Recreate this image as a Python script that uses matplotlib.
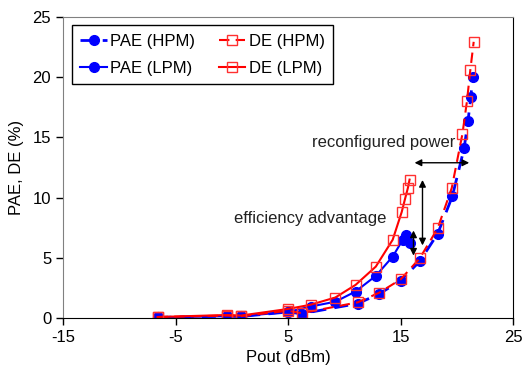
import matplotlib
matplotlib.use("Agg")
from matplotlib import pyplot as plt

plt.rcParams['font.family'] = ['Liberation Sans', 'DejaVu Sans']
plt.rcParams['font.size'] = 12
plt.rcParams['axes.unicode_minus'] = False

# HPM (dashed)
pout_hpm = [-6.6, -0.4, 0.8, 5.0, 6.2, 11.2, 13.1, 15.0, 16.7, 18.3, 19.6, 20.65, 21.0, 21.25, 21.4]
pae_hpm = [0.05, 0.15, 0.12, 0.5, 0.35, 1.2, 2.0, 3.1, 4.7, 7.0, 10.1, 14.1, 16.4, 18.4, 20.0]
pout_de_hpm = [-6.6, -0.4, 0.8, 5.0, 6.2, 11.2, 13.1, 15.0, 16.7, 18.3, 19.55, 20.5, 20.9, 21.2, 21.5]
de_hpm = [0.08, 0.2, 0.15, 0.6, 0.4, 1.3, 2.1, 3.2, 4.95, 7.45, 10.8, 15.3, 18.0, 20.6, 22.95]

# LPM (solid)
pout_lpm = [-6.6, -0.4, 0.8, 5.0, 7.0, 9.2, 11.0, 12.8, 14.3, 15.2, 15.5, 15.8]
pae_lpm = [0.05, 0.15, 0.15, 0.5, 0.95, 1.35, 2.2, 3.5, 5.1, 6.5, 6.9, 6.25]
pout_de_lpm = [-6.6, -0.4, 0.8, 5.0, 7.0, 9.2, 11.0, 12.8, 14.3, 15.1, 15.4, 15.65, 15.8]
de_lpm = [0.08, 0.25, 0.2, 0.75, 1.1, 1.7, 2.75, 4.27, 6.5, 8.8, 9.9, 10.8, 11.5]

fig = plt.figure(figsize=(5.23, 3.73), dpi=100)
ax = fig.add_axes([0.1205, 0.1475, 0.8605, 0.8065])

# order: PAE HPM, PAE LPM, DE HPM, DE LPM (legend is filled column by column)
ax.plot(pout_hpm, pae_hpm, color='blue', linestyle=(0, (5, 3)), linewidth=2,
        marker='o', markersize=7, label='PAE (HPM)')
ax.plot(pout_lpm, pae_lpm, color='blue', linestyle='-', linewidth=1.5,
        marker='o', markersize=7, label='PAE (LPM)')
ax.plot(pout_de_hpm, de_hpm, color='red', linestyle=(0, (5, 3)), linewidth=1.5,
        marker='s', markersize=7, markerfacecolor='none', markeredgecolor='#ff3030',
        markeredgewidth=1, label='DE (HPM)')
ax.plot(pout_de_lpm, de_lpm, color='red', linestyle='-', linewidth=1.5,
        marker='s', markersize=7, markerfacecolor='none', markeredgecolor='#ff3030',
        markeredgewidth=1, label='DE (LPM)')

# annotations
arrow = dict(arrowstyle='<|-|>', color='black', lw=1, mutation_scale=10)
ax.annotate('', xy=(16.0, 12.9), xytext=(21.35, 12.9), arrowprops=arrow)
ax.annotate('', xy=(16.95, 11.7), xytext=(16.95, 5.8), arrowprops=arrow)
ax.annotate('', xy=(16.15, 7.5), xytext=(16.15, 4.95), arrowprops=arrow)
ax.text(19.9, 14.6, 'reconfigured power', ha='right', va='center', color='#222222')
ax.text(0.2, 8.3, 'efficiency advantage', ha='left', va='center', color='#222222')

ax.set_xlim(-15, 25)
ax.set_ylim(0, 25)
ax.set_xticks([-15, -5, 5, 15, 25])
ax.set_yticks([0, 5, 10, 15, 20, 25])
ax.tick_params(direction='out', length=5, width=1)
for s in ['left', 'top']:
    ax.spines[s].set_color('#808080')
for s in ['bottom', 'right']:
    ax.spines[s].set_color('black')

ax.set_xlabel('Pout (dBm)', labelpad=4)
ax.set_ylabel('PAE, DE (%)', labelpad=6)

leg = ax.legend(loc='upper left', ncol=2, fancybox=False, framealpha=1,
                edgecolor='black', handlelength=1.6, handletextpad=0.2,
                columnspacing=1.4, borderpad=0.5, labelspacing=0.75,
                borderaxespad=0, bbox_to_anchor=(0.02, 0.973))
leg.get_frame().set_linewidth(1)

fig.savefig('out.png', dpi=100)
